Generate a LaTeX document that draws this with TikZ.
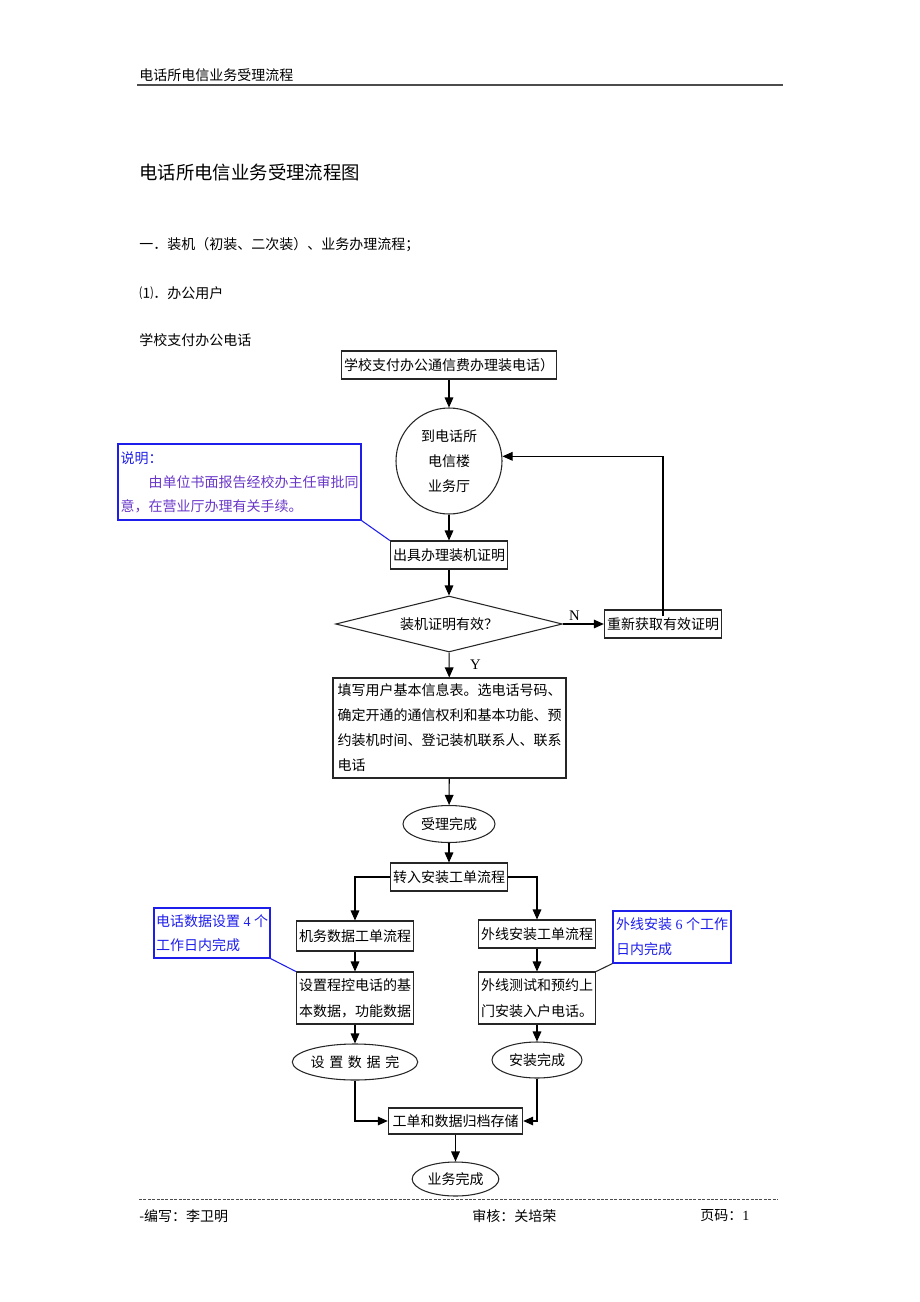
\documentclass[tikz,border=0pt]{standalone}
\usepackage{fontspec}
\setmainfont{Noto Sans CJK SC}
\newfontfamily\latinfont{Liberation Serif}
\usetikzlibrary{arrows.meta,shapes.geometric}
\definecolor{noteblue}{RGB}{30,30,235}
\definecolor{noteviolet}{RGB}{105,55,200}
\tikzset{
	stepbox/.style={shape=rectangle,draw=black!85,line width=0.8pt,inner xsep=2pt,inner ysep=0pt,minimum height=21pt},
	roundbox/.style={shape=ellipse,draw=black!85,line width=0.8pt,inner sep=0pt},
	notebox/.style={shape=rectangle,draw=noteblue,line width=0.8pt,inner sep=0pt,align=left},
	plaintext/.style={anchor=west,inner sep=0pt},
}
\newcommand{\lspace}{\kern3.5pt}

\begin{document}
\begin{tikzpicture}[x=0.75pt,y=-0.75pt,>={Triangle[length=7.5pt,width=6.5pt]},auto,font=\fontsize{10.5}{13}\selectfont]
	\useasboundingbox (0,0) rectangle (920,1302);

	% page head and texts
	\node (head) [plaintext] at (139,75) {电话所电信业务受理流程};
	\draw[black!70,line width=1.5pt] (137,85) -- (783,85);
	\node (title) [plaintext,font=\fontsize{13.8}{17}\selectfont] at (139,172) {电话所电信业务受理流程图};
	\node (part) [plaintext] at (139,245) {一．装机（初装、二次装）、业务办理流程；};
	\node (sub) [plaintext] at (139,293) {⑴．办公用户};
	\node (caption) [plaintext] at (139,340) {学校支付办公电话};

	% main column
	\node (apply) [stepbox] at (449,365) {学校支付办公通信费办理装电话）};
	\node (hall) [shape=circle,draw=black!85,line width=0.8pt,minimum size=79.5pt,inner sep=0pt,align=center,font=\fontsize{10.5}{18.75}\selectfont] at (449,461) {到电话所\\电信楼\\业务厅};
	\node (proof) [stepbox] at (449,555) {出具办理装机证明};
	\node (check) [shape=diamond,shape aspect=4,draw=black!85,line width=0.8pt,minimum width=170pt,minimum height=42pt,inner sep=0pt] at (449,624) {装机证明有效？};
	\node (renew) [stepbox] at (663,624) {重新获取有效证明};
	\node (form) [stepbox,minimum width=174.75pt,minimum height=75pt,inner xsep=2pt,align=left,font=\fontsize{10.5}{18.75}\selectfont] at (449.5,728) {填写用户基本信息表。选电话号码、\\确定开通的通信权利和基本功能、预\\约装机时间、登记装机联系人、联系\\电话};
	\node (accepted) [roundbox,minimum width=69pt,minimum height=27.75pt] at (449,824) {受理完成};
	\node (transfer) [stepbox] at (449,877) {转入安装工单流程};

	% two branches
	\node (dataorder) [stepbox,minimum height=22.5pt] at (355,936) {机务数据工单流程};
	\node (lineorder) [stepbox] at (537,934) {外线安装工单流程};
	\node (setdata) [stepbox,minimum height=39pt,align=left,font=\fontsize{10.5}{19.5}\selectfont] at (355,998) {设置程控电话的基\\本数据，功能数据};
	\node (linetest) [stepbox,minimum height=39pt,align=left,font=\fontsize{10.5}{19.5}\selectfont] at (537,998) {外线测试和预约上\\门安装入户电话。};
	\node (datadone) [roundbox,minimum width=93pt,minimum height=27pt] at (355,1062) {设\lspace 置\lspace 数\lspace 据\lspace 完};
	\node (linedone) [roundbox,minimum width=67.5pt,minimum height=27pt] at (537,1060) {安装完成};
	\node (archive) [stepbox,line width=1.1pt,minimum height=19.5pt,inner xsep=3pt] at (455.5,1121) {工单和数据归档存储};
	\node (finish) [roundbox,minimum width=65pt,minimum height=25.5pt] at (455.5,1179) {业务完成};

	% notes
	\node (note1) [notebox,minimum width=182.25pt,minimum height=57pt,font=\fontsize{10.5}{18}\selectfont] at (239.5,482) {{\color{noteblue}说明：}\\\hspace*{2em}{\color{noteviolet}由单位书面报告经校办主任审批同}\\{\color{noteviolet}意，在营业厅办理有关手续。}};
	\node (note2) [notebox,minimum width=87pt,minimum height=37.5pt,text=noteblue,font=\fontsize{10.5}{18}\selectfont] at (212,933) {电话数据设置{\latinfont\ 4 }个\\工作日内完成};
	\node (note3) [notebox,minimum width=88.5pt,minimum height=39pt,text=noteblue,font=\fontsize{10.5}{18.75}\selectfont] at (672,937) {外线安装{\latinfont\ 6 }个工作\\日内完成};

	\path[->,line width=0.8pt] (apply) edge (hall);
	\path[->,line width=0.8pt] (hall) edge (proof);
	\path[->,line width=0.8pt] (proof) edge (check);
	\path[->,line width=0.8pt] (check) edge node[pos=0.28,inner sep=2pt,font=\latinfont\fontsize{11}{13}\selectfont] {N} (renew);
	\path[->,line width=0.8pt] (check) edge node[right=12pt,font=\latinfont\fontsize{11}{13}\selectfont] {Y} (form);
	\draw[->,line width=0.8pt] ([yshift=-5pt]renew.north) |- ([yshift=3.5pt]hall.east);
	\path[->,line width=0.8pt] (form) edge (accepted);
	\path[->,line width=0.8pt] (accepted) edge (transfer);
	\draw[->,line width=0.8pt] (transfer.west) -| (dataorder.north);
	\draw[->,line width=0.8pt] (transfer.east) -| (lineorder.north);
	\path[->,line width=0.8pt] (dataorder) edge (setdata);
	\path[->,line width=0.8pt] (lineorder) edge (linetest);
	\path[->,line width=0.8pt] (setdata) edge (datadone);
	\path[->,line width=0.8pt] (linetest) edge (linedone);
	\draw[->,line width=0.8pt] (datadone.south) |- (archive.west);
	\draw[->,line width=0.8pt] (linedone.south) |- (archive.east);
	\path[->,line width=0.8pt] (archive) edge (finish);

	% note pointers
	\draw[noteblue,line width=0.8pt] (note1.south east) -- (proof.north west);
	\draw[noteblue,line width=0.8pt] (note2.south east) -- (setdata.north west);
	\draw[black!85,line width=0.8pt] (note3.south west) -- (linetest.north east);

	% page foot
	\draw[black!70,line width=0.6pt,dash pattern=on 2.2pt off 1.1pt] (139,1199) -- (778,1199);
	\node (writer) [plaintext] at (139,1216) {-编写：李卫明};
	\node (checker) [plaintext] at (472,1216) {审核：关培荣};
	\node (page) [plaintext] at (700,1216) {页码：{\latinfont 1}};
\end{tikzpicture}
\end{document}
